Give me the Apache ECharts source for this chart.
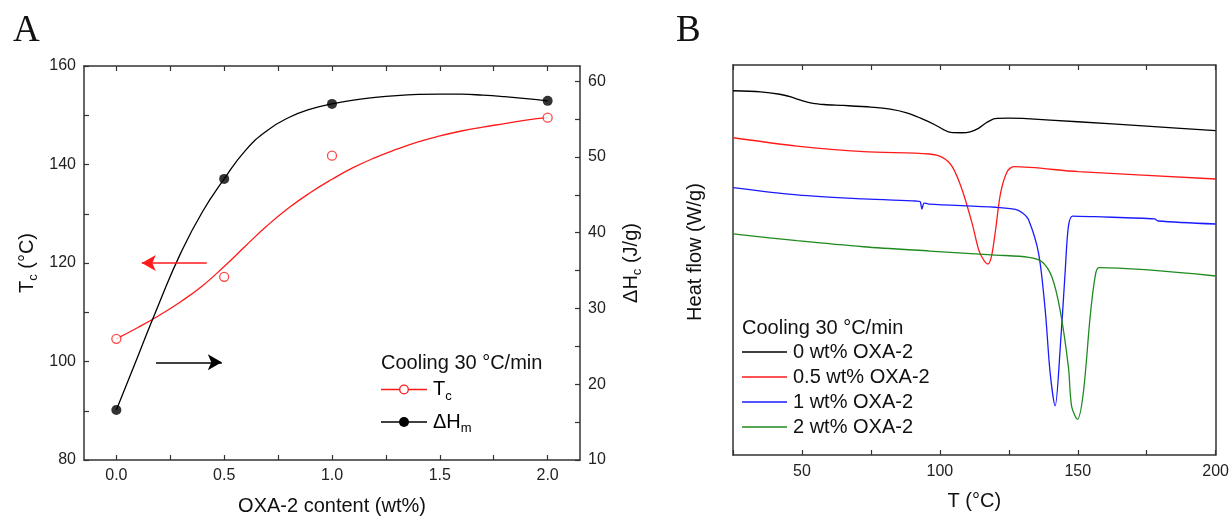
<!DOCTYPE html>
<html>
<head>
<meta charset="utf-8">
<script src="https://cdn.jsdelivr.net/npm/echarts@6/dist/echarts.min.js"></script>
<style>
html,body{margin:0;padding:0;background:#fff;}
#chart{width:1232px;height:521px;}
</style>
</head>
<body>
<div id="chart"></div>
<script>
// ---------- Panel A data ----------
const oxaContent = [0, 0.5, 1, 2];
const tcPoints = [104.6, 117.2, 141.8, 149.5];
const dhPoints = [16.6, 47.1, 57.0, 57.4];
const fitX = [0, 0.1, 0.2, 0.3, 0.4, 0.5, 0.6, 0.7, 0.8, 0.9, 1.0, 1.1, 1.2, 1.3, 1.4, 1.5, 1.6, 1.7, 1.8, 1.9, 2.0];
const tcFit = [104.6, 106.9, 109.4, 112.2, 115.4, 119.3, 123.5, 127.6, 131.2, 134.3, 137.0, 139.4, 141.4, 143.1, 144.6, 145.8, 146.8, 147.6, 148.3, 149.0, 149.5];
const dhFit = [16.6, 23.7, 30.8, 37.4, 42.8, 47.1, 50.9, 53.5, 55.2, 56.3, 57.0, 57.5, 57.85, 58.1, 58.25, 58.3, 58.28, 58.15, 57.95, 57.7, 57.4];
const xLabelsA = [0, 0.5, 1, 1.5, 2];
const xTicksA = [0, 0.25, 0.5, 0.75, 1, 1.25, 1.5, 1.75, 2];
const yLabelsA = [80, 100, 120, 140, 160];
const yTicksA = [80, 90, 100, 110, 120, 130, 140, 150, 160];
const y2LabelsA = [10, 20, 30, 40, 50, 60];
const y2TicksA = [10, 15, 20, 25, 30, 35, 40, 45, 50, 55, 60];

// ---------- Panel B data (T in °C, heat flow in W/g, arbitrary offsets) ----------
const t0 = [25, 35, 42, 46, 50, 54, 58, 65, 75, 82, 88, 93, 98, 101.5, 104, 108, 111, 114, 117, 120, 125, 130, 150, 175, 200];
const hf0 = [0.736, 0.725, 0.700, 0.672, 0.635, 0.607, 0.595, 0.585, 0.568, 0.548, 0.510, 0.455, 0.390, 0.335, 0.308, 0.305, 0.315, 0.350, 0.410, 0.450, 0.455, 0.452, 0.418, 0.374, 0.326];
const t05 = [25, 48.2, 72.3, 96.1, 100.9, 104.5, 108.1, 111.7, 114.1, 115.9, 117.4, 118.7, 120.2, 122, 124.4, 126.8, 150.2, 200];
const hf05 = [0.254, 0.169, 0.111, 0.087, 0.053, -0.043, -0.282, -0.624, -0.897, -1.000, -1.041, -0.966, -0.692, -0.316, -0.094, -0.043, -0.094, -0.169];
const t1 = [25, 48.2, 72.3, 91.3, 92.8, 93.5, 94.3, 96.1, 120.2, 127.4, 130, 132.2, 135.8, 138.2, 140, 141.8, 143.6, 145.4, 146.6, 148.1, 156.3, 177.9, 179.1, 200];
const hf1 = [-0.258, -0.333, -0.374, -0.395, -0.400, -0.477, -0.416, -0.426, -0.459, -0.480, -0.518, -0.590, -0.931, -1.513, -2.162, -2.497, -1.923, -1.136, -0.658, -0.549, -0.556, -0.579, -0.600, -0.631];
const t2 = [25, 48.2, 72.3, 96.4, 120.2, 132.2, 137, 140.6, 143.6, 146.6, 147.8, 149.9, 152, 154.5, 156.3, 157.7, 200];
const hf2 = [-0.733, -0.802, -0.864, -0.908, -0.949, -0.972, -1.017, -1.171, -1.513, -2.094, -2.504, -2.634, -2.367, -1.581, -1.171, -1.079, -1.164];
const seriesNamesB = ['0 wt% OXA-2', '0.5 wt% OXA-2', '1 wt% OXA-2', '2 wt% OXA-2'];
const colorsB = ['#000000', '#ff1a1a', '#1a1aff', '#1f8a1f'];

const zip = (a, b) => a.map((v, i) => [v, b[i]]);
const FONT = 'Liberation Sans, Arial, sans-serif';
const LINE = { show: true, onZero: false, lineStyle: { color: '#333', width: 1.5 } };
const TICK = (vals) => ({ show: true, inside: true, length: 5, lineStyle: { color: '#333', width: 1.2 }, customValues: vals });
const TICKB = { show: true, inside: true, length: 5, lineStyle: { color: '#333', width: 1.2 } };
const nameRich = {
  a: { fontSize: 20, fontFamily: FONT, color: '#111', lineHeight: 26, verticalAlign: 'middle' },
  s: { fontSize: 13, fontFamily: FONT, color: '#111', lineHeight: 14, verticalAlign: 'bottom' }
};

const chart = echarts.init(document.getElementById('chart'));
const option = {
  animation: false,
  backgroundColor: '#fff',
  grid: [
    { left: 84, width: 496, top: 66, height: 399 },
    { left: 733, width: 485, top: 65, height: 390 }
  ],
  xAxis: [
    { gridIndex: 0, type: 'value', position: 'bottom', min: -0.15, max: 2.15,
      name: 'OXA-2 content (wt%)', nameLocation: 'middle', nameGap: 36,
      nameTextStyle: { fontSize: 20, fontFamily: FONT, color: '#111' },
      axisLine: LINE, axisTick: TICK(xTicksA), splitLine: { show: false },
      axisLabel: { customValues: xLabelsA, formatter: v => v.toFixed(1), fontSize: 16, fontFamily: FONT, color: '#222', margin: 8 } },
    { gridIndex: 0, type: 'value', position: 'top', min: -0.15, max: 2.15,
      axisLine: LINE, axisTick: TICK(xTicksA), splitLine: { show: false }, axisLabel: { show: false } },
    { gridIndex: 1, type: 'value', position: 'bottom', min: 25, max: 200, interval: 25,
      name: 'T (°C)', nameLocation: 'middle', nameGap: 36,
      nameTextStyle: { fontSize: 20, fontFamily: FONT, color: '#111' },
      axisLine: LINE, axisTick: TICKB, splitLine: { show: false },
      axisLabel: { formatter: v => (v % 50 === 0 ? String(v) : ''), fontSize: 16, fontFamily: FONT, color: '#222', margin: 9, showMinLabel: true, showMaxLabel: true } },
    { gridIndex: 1, type: 'value', position: 'top', min: 25, max: 200, interval: 25,
      axisLine: LINE, axisTick: TICKB, splitLine: { show: false }, axisLabel: { show: false } }
  ],
  yAxis: [
    { gridIndex: 0, type: 'value', position: 'left', min: 80, max: 160,
      name: '{a|T}{s|c}{a| (°C)}', nameLocation: 'middle', nameGap: 44,
      nameTextStyle: { rich: nameRich },
      axisLine: LINE, axisTick: TICK(yTicksA), splitLine: { show: false },
      axisLabel: { customValues: yLabelsA, fontSize: 16, fontFamily: FONT, color: '#222', margin: 8 } },
    { gridIndex: 0, type: 'value', position: 'right', min: 10, max: 62,
      name: '{a|ΔH}{s|c}{a| (J/g)}', nameLocation: 'middle', nameGap: 38, nameRotate: 90,
      nameTextStyle: { rich: nameRich },
      axisLine: LINE, axisTick: TICK(y2TicksA), splitLine: { show: false },
      axisLabel: { customValues: y2LabelsA, fontSize: 16, fontFamily: FONT, color: '#222', margin: 8 } },
    { gridIndex: 1, type: 'value', position: 'left', min: -3, max: 1,
      name: 'Heat flow (W/g)', nameLocation: 'middle', nameGap: 28,
      nameTextStyle: { fontSize: 20, fontFamily: FONT, color: '#111', padding: [0, 0, 0, 16] },
      axisLine: LINE, axisTick: { show: false }, splitLine: { show: false }, axisLabel: { show: false } },
    { gridIndex: 1, type: 'value', position: 'right', min: -3, max: 1,
      axisLine: LINE, axisTick: { show: false }, splitLine: { show: false }, axisLabel: { show: false } }
  ],
  series: [
    { name: 'Tc fit', type: 'line', xAxisIndex: 0, yAxisIndex: 0, data: zip(fitX, tcFit), smooth: true,
      symbol: 'none', lineStyle: { color: '#ff1a1a', width: 1.3 }, z: 2,
      markLine: { silent: true, symbol: ['none', 'arrow'], symbolSize: [12, 14], label: { show: false },
        lineStyle: { color: '#ff1a1a', width: 1.5, type: 'solid' },
        data: [[{ coord: [0.419, 120] }, { coord: [0.118, 120] }]] } },
    { name: 'dH fit', type: 'line', xAxisIndex: 0, yAxisIndex: 1, data: zip(fitX, dhFit), smooth: true,
      symbol: 'none', lineStyle: { color: '#000', width: 1.3 }, z: 2,
      markLine: { silent: true, symbol: ['none', 'arrow'], symbolSize: [12, 14], label: { show: false },
        lineStyle: { color: '#000', width: 1.5, type: 'solid' },
        data: [[{ coord: [0.184, 22.9] }, { coord: [0.489, 22.9] }]] } },
    { name: 'Tc', type: 'scatter', xAxisIndex: 0, yAxisIndex: 0, data: zip(oxaContent, tcPoints),
      symbol: 'circle', symbolSize: 9, itemStyle: { color: '#fff', borderColor: '#ff1a1a', borderWidth: 1.3 }, z: 3 },
    { name: 'dHm', type: 'scatter', xAxisIndex: 0, yAxisIndex: 1, data: zip(oxaContent, dhPoints),
      symbol: 'circle', symbolSize: 10, itemStyle: { color: '#000' }, z: 3 },
    { name: seriesNamesB[0], type: 'line', xAxisIndex: 2, yAxisIndex: 2, data: zip(t0, hf0), smooth: 0.3, symbol: 'none', lineStyle: { color: colorsB[0], width: 1.3 } },
    { name: seriesNamesB[1], type: 'line', xAxisIndex: 2, yAxisIndex: 2, data: zip(t05, hf05), smooth: 0.3, symbol: 'none', lineStyle: { color: colorsB[1], width: 1.3 } },
    { name: seriesNamesB[2], type: 'line', xAxisIndex: 2, yAxisIndex: 2, data: zip(t1, hf1), smooth: 0.3, symbol: 'none', lineStyle: { color: colorsB[2], width: 1.3 } },
    { name: seriesNamesB[3], type: 'line', xAxisIndex: 2, yAxisIndex: 2, data: zip(t2, hf2), smooth: 0.3, symbol: 'none', lineStyle: { color: colorsB[3], width: 1.3 } }
  ],
  graphic: (function () {
    const g = [];
    const txt = (x, y, text, size) => g.push({ type: 'text', x: x, y: y, silent: true,
      style: { text: text, fontSize: size, fontFamily: FONT, fill: '#111', verticalAlign: 'middle', align: 'left' } });
    // panel letters
    g.push({ type: 'text', x: 13, y: 31, silent: true, style: { text: 'A', fontSize: 37, fontFamily: 'Liberation Serif, Times New Roman, serif', fill: '#111', verticalAlign: 'middle' } });
    g.push({ type: 'text', x: 676, y: 31, silent: true, style: { text: 'B', fontSize: 37, fontFamily: 'Liberation Serif, Times New Roman, serif', fill: '#111', verticalAlign: 'middle' } });
    // legend A
    txt(381, 363, 'Cooling 30 °C/min', 20);
    g.push({ type: 'line', silent: true, shape: { x1: 381, y1: 389.5, x2: 427, y2: 389.5 }, style: { stroke: '#ff1a1a', lineWidth: 1.3 } });
    g.push({ type: 'circle', silent: true, shape: { cx: 404, cy: 389.5, r: 4.3 }, style: { fill: '#fff', stroke: '#ff1a1a', lineWidth: 1.3 } });
    g.push({ type: 'text', x: 433, y: 389.5, silent: true, style: { text: '{a|T}{s|c}', rich: nameRich, verticalAlign: 'middle', align: 'left' } });
    g.push({ type: 'line', silent: true, shape: { x1: 381, y1: 422, x2: 427, y2: 422 }, style: { stroke: '#000', lineWidth: 1.3 } });
    g.push({ type: 'circle', silent: true, shape: { cx: 404, cy: 422, r: 5 }, style: { fill: '#000' } });
    g.push({ type: 'text', x: 433, y: 422, silent: true, style: { text: '{a|ΔH}{s|m}', rich: nameRich, verticalAlign: 'middle', align: 'left' } });
    // legend B
    txt(742, 328, 'Cooling 30 °C/min', 20);
    const ys = [352, 377, 402, 427];
    seriesNamesB.forEach((n, i) => {
      g.push({ type: 'line', silent: true, shape: { x1: 742, y1: ys[i], x2: 787, y2: ys[i] }, style: { stroke: colorsB[i], lineWidth: 1.3 } });
      txt(793, ys[i], n, 20);
    });
    return g;
  })()
};
chart.setOption(option);
</script>
</body>
</html>
